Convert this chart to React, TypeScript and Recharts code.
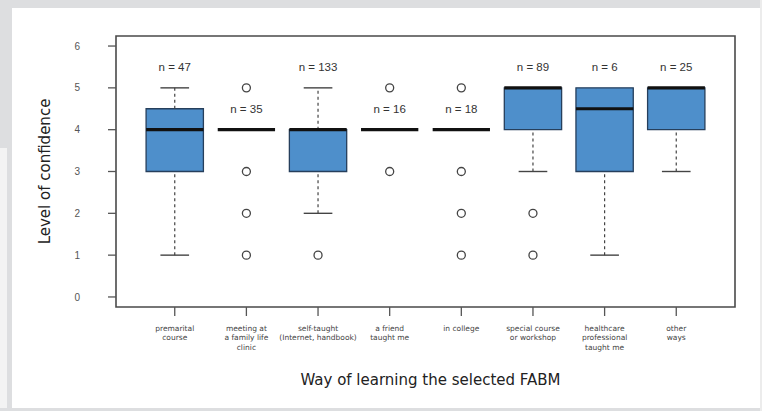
import React from "react";
import {
  ComposedChart,
  XAxis,
  YAxis,
  Scatter,
  ReferenceArea,
  ReferenceLine,
} from "recharts";

// one entry per way of learning, in plotting order
const categories = [
  "premarital\ncourse",
  "meeting at\na family life\nclinic",
  "self-taught\n(Internet, handbook)",
  "a friend\ntaught me",
  "in college",
  "special course\nor workshop",
  "healthcare\nprofessional\ntaught me",
  "other\nways",
];
const sampleSizes = [47, 35, 133, 16, 18, 89, 6, 25];
const whiskerLow = [1, 4, 2, 4, 4, 3, 1, 3];
const lowerQuartile = [3, 4, 3, 4, 4, 4, 3, 4];
const medians = [4, 4, 4, 4, 4, 5, 4.5, 5];
const upperQuartile = [4.5, 4, 4, 4, 4, 5, 5, 5];
const whiskerHigh = [5, 4, 5, 4, 4, 5, 5, 5];
const outliers = [[], [5, 3, 2, 1], [1], [5, 3], [5, 3, 2, 1], [2, 1], [], []];
const yTicks = [0, 1, 2, 3, 4, 5, 6];

const BOX_FILL = "#4e8fcb";
const LINE = "#444";
const HALF_BOX = 0.4;
const HALF_CAP = 0.2;

const outlierPoints = outliers.flatMap((vals, i) =>
  vals.map((v) => ({ x: i + 1, y: v }))
);
const countLabels = sampleSizes.map((n, i) => ({
  x: i + 1,
  y: whiskerHigh[i] + 0.5,
  label: `n = ${n}`,
}));

const CategoryTick = (props: any) => {
  const { x, y, payload } = props;
  const lines = categories[payload.value - 1].split("\n");
  return (
    <text
      x={x}
      y={y}
      textAnchor="middle"
      fontSize={7.5}
      fill="#444"
      fontFamily="DejaVu Sans"
    >
      {lines.map((l, k) => (
        <tspan key={k} x={x} dy={k === 0 ? 13 : 9.3}>
          {l}
        </tspan>
      ))}
    </text>
  );
};

export default function App() {
  return (
    <div
      style={{
        position: "absolute",
        left: 0,
        top: 0,
        width: 762,
        height: 411,
        background: "#fff",
        overflow: "hidden",
      }}
    >
      {/* page frame around the figure */}
      <div style={{ position: "absolute", left: 0, top: 0, width: 762, height: 8, background: "#dddee0" }} />
      <div style={{ position: "absolute", left: 0, top: 0, width: 12, height: 148, background: "#dddee0" }} />
      <div style={{ position: "absolute", left: 0, top: 148, width: 7, height: 263, background: "#f3f3f3" }} />
      <div style={{ position: "absolute", left: 7, top: 148, width: 5, height: 263, background: "#dddee0" }} />
      <div style={{ position: "absolute", left: 0, top: 408, width: 762, height: 3, background: "#dddee0" }} />
      <div style={{ position: "absolute", left: 760, top: 0, width: 2, height: 411, background: "#ececec" }} />

      <div style={{ position: "absolute", left: 0, top: 0 }}>
        <ComposedChart
          width={762}
          height={411}
          margin={{ top: 36, right: 27, left: 0, bottom: 0 }}
        >
          <XAxis
            type="number"
            dataKey="x"
            domain={[0.18, 8.82]}
            ticks={[1, 2, 3, 4, 5, 6, 7, 8]}
            interval={0}
            allowDataOverflow
            axisLine={false}
            tickSize={9}
            tickLine={{ stroke: "#555", strokeWidth: 1.3 }}
            tick={<CategoryTick />}
            height={104}
            label={(p: any) => {
              const vb = p.viewBox || { x: 116, width: 619, y: 307 };
              return (
                <text
                  x={vb.x + vb.width / 2 + 5}
                  y={385}
                  textAnchor="middle"
                  fontSize={15}
                  fill="#222"
                  fontFamily="DejaVu Sans"
                >
                  Way of learning the selected FABM
                </text>
              );
            }}
          />
          <YAxis
            type="number"
            dataKey="y"
            domain={[-0.24, 6.24]}
            ticks={yTicks}
            allowDataOverflow
            axisLine={false}
            tickSize={8}
            tickMargin={28}
            tickLine={{ stroke: "#555", strokeWidth: 1.3 }}
            tick={{ fontSize: 10, fill: "#555", fontFamily: "Liberation Sans" }}
            width={116}
            label={(p: any) => {
              const vb = p.viewBox || { y: 36, height: 271 };
              const cy = vb.y + vb.height / 2;
              return (
                <text
                  x={45}
                  y={cy}
                  transform={`rotate(-90, 45, ${cy})`}
                  textAnchor="middle"
                  dominantBaseline="central"
                  fontSize={15}
                  fill="#222"
                  fontFamily="DejaVu Sans"
                >
                  Level of confidence
                </text>
              );
            }}
          />

          {/* boxes */}
          {categories.map((_, i) =>
            upperQuartile[i] > lowerQuartile[i] ? (
              <ReferenceArea
                key={`box-${i}`}
                x1={i + 1 - HALF_BOX}
                x2={i + 1 + HALF_BOX}
                y1={lowerQuartile[i]}
                y2={upperQuartile[i]}
                fill={BOX_FILL}
                fillOpacity={1}
                stroke="#263f5c"
                strokeWidth={1.3}
              />
            ) : null
          )}

          {/* whiskers and caps */}
          {categories.map((_, i) =>
            whiskerHigh[i] > upperQuartile[i] ? (
              <ReferenceLine
                key={`wh-${i}`}
                segment={[
                  { x: i + 1, y: upperQuartile[i] },
                  { x: i + 1, y: whiskerHigh[i] },
                ]}
                stroke={LINE}
                strokeWidth={1.2}
                strokeDasharray="3 3"
              />
            ) : null
          )}
          {categories.map((_, i) =>
            whiskerHigh[i] > upperQuartile[i] ? (
              <ReferenceLine
                key={`ch-${i}`}
                segment={[
                  { x: i + 1 - HALF_CAP, y: whiskerHigh[i] },
                  { x: i + 1 + HALF_CAP, y: whiskerHigh[i] },
                ]}
                stroke={LINE}
                strokeWidth={1.4}
              />
            ) : null
          )}
          {categories.map((_, i) =>
            whiskerLow[i] < lowerQuartile[i] ? (
              <ReferenceLine
                key={`wl-${i}`}
                segment={[
                  { x: i + 1, y: whiskerLow[i] },
                  { x: i + 1, y: lowerQuartile[i] },
                ]}
                stroke={LINE}
                strokeWidth={1.2}
                strokeDasharray="3 3"
              />
            ) : null
          )}
          {categories.map((_, i) =>
            whiskerLow[i] < lowerQuartile[i] ? (
              <ReferenceLine
                key={`cl-${i}`}
                segment={[
                  { x: i + 1 - HALF_CAP, y: whiskerLow[i] },
                  { x: i + 1 + HALF_CAP, y: whiskerLow[i] },
                ]}
                stroke={LINE}
                strokeWidth={1.4}
              />
            ) : null
          )}

          {/* medians */}
          {medians.map((m, i) => (
            <ReferenceLine
              key={`med-${i}`}
              segment={[
                { x: i + 1 - HALF_BOX, y: m },
                { x: i + 1 + HALF_BOX, y: m },
              ]}
              stroke="#111"
              strokeWidth={3.2}
            />
          ))}

          {/* plot frame */}
          <ReferenceArea
            x1={0.18}
            x2={8.82}
            y1={-0.24}
            y2={6.24}
            fill="none"
            stroke="#4a4a4a"
            strokeWidth={1.6}
            ifOverflow="visible"
          />

          <Scatter
            data={outlierPoints}
            isAnimationActive={false}
            shape={(p: any) => (
              <circle
                cx={p.cx}
                cy={p.cy}
                r={4}
                fill="#fff"
                stroke={LINE}
                strokeWidth={1.3}
              />
            )}
          />
          <Scatter
            data={countLabels}
            isAnimationActive={false}
            shape={(p: any) => (
              <text
                x={p.cx}
                y={p.cy}
                textAnchor="middle"
                dominantBaseline="central"
                fontSize={11.5}
                fill="#333"
                fontFamily="Liberation Sans"
              >
                {p.payload?.label}
              </text>
            )}
          />
        </ComposedChart>
      </div>
    </div>
  );
}
